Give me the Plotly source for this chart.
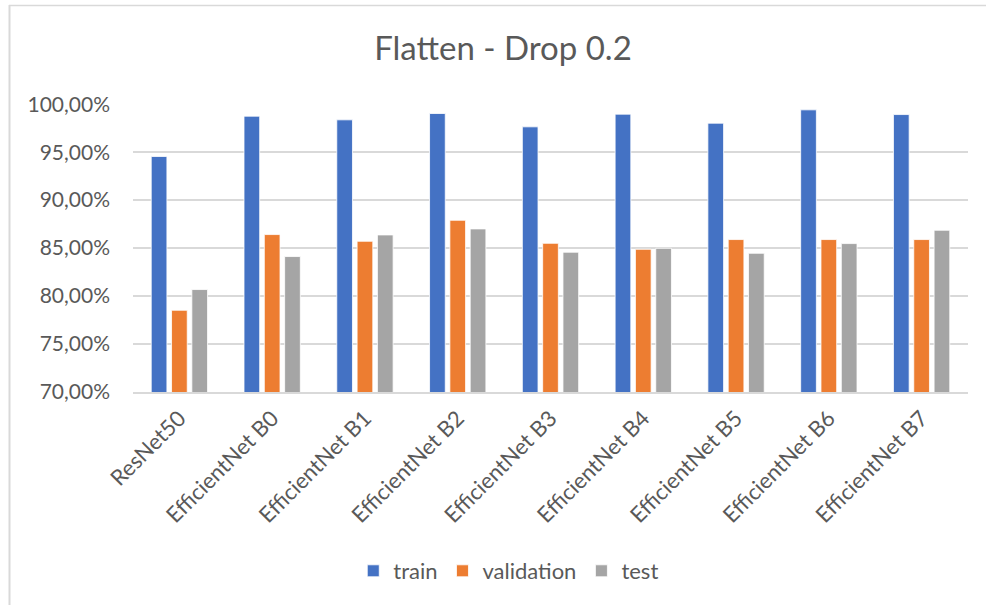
import plotly.graph_objects as go

categories = ["ResNet50", "EfficientNet B0", "EfficientNet B1", "EfficientNet B2",
              "EfficientNet B3", "EfficientNet B4", "EfficientNet B5", "EfficientNet B6",
              "EfficientNet B7"]
train = [0.9455, 0.9875, 0.9837, 0.9903, 0.9764, 0.9896, 0.9802, 0.9941, 0.9892]
validation = [0.7852, 0.8641, 0.8571, 0.8790, 0.8550, 0.8488, 0.8589, 0.8589, 0.8589]
test = [0.8068, 0.8412, 0.8637, 0.8700, 0.8457, 0.8498, 0.8446, 0.8547, 0.8686]

series = [("train", train, "#4472C4"), ("validation", validation, "#ED7D31"), ("test", test, "#A5A5A5")]

W, H = 986, 605
L, R, T, B = 133, 18, 104, 213
pw, ph = W - L - R, H - T - B

fig = go.Figure()
for name, vals, col in series:
    fig.add_trace(go.Bar(x=categories, y=vals, name=name, marker_color=col,
                         marker_line=dict(color="white", width=0.8)))

font_fam = "Lato, 'Open Sans', sans-serif"
fig.update_layout(
    width=W, height=H,
    margin=dict(l=L, r=R, t=T, b=B),
    paper_bgcolor="white", plot_bgcolor="white",
    separators=", ",
    barmode="group", bargap=0.343, bargroupgap=0.227,
    title=dict(text="Flatten - Drop 0.2", x=(503 - L) / pw, xref="paper", xanchor="center",
               y=1 - 48 / H, yanchor="middle",
               font=dict(family=font_fam, size=33, color="#595959")),
    font=dict(family=font_fam, size=21, color="#595959"),
    legend=dict(orientation="h", x=0.45, xanchor="center", y=(392 - 571) / ph, yanchor="middle",
                font=dict(size=22, color="#595959"), itemwidth=30, traceorder="normal"),
    showlegend=True,
)
fig.update_yaxes(range=[0.70, 1.0002], tickvals=[0.70, 0.75, 0.80, 0.85, 0.90, 0.95, 1.00],
                 tickformat=".2%", showgrid=True, gridcolor="#D9D9D9", gridwidth=1.5,
                 zeroline=False, showline=False, ticks="", ticklabelstandoff=22,
                 tickfont=dict(size=21, color="#595959"))
fig.update_xaxes(showline=True, linecolor="#D9D9D9", linewidth=1.5, tickangle=-45, ticks="",
                 tickfont=dict(size=22, color="#595959"), ticklabelstandoff=3)

# chart border lines (left and top)
fig.add_shape(type="line", xref="paper", yref="paper",
              x0=(9.5 - L) / pw, x1=(9.5 - L) / pw, y0=(392 - 605) / ph, y1=(392 - 5) / ph,
              line=dict(color="#D9D9D9", width=2))
fig.add_shape(type="line", xref="paper", yref="paper",
              x0=(9 - L) / pw, x1=(986 - L) / pw, y0=(392 - 5.5) / ph, y1=(392 - 5.5) / ph,
              line=dict(color="#D9D9D9", width=1.5))

fig.write_html("out.html")
